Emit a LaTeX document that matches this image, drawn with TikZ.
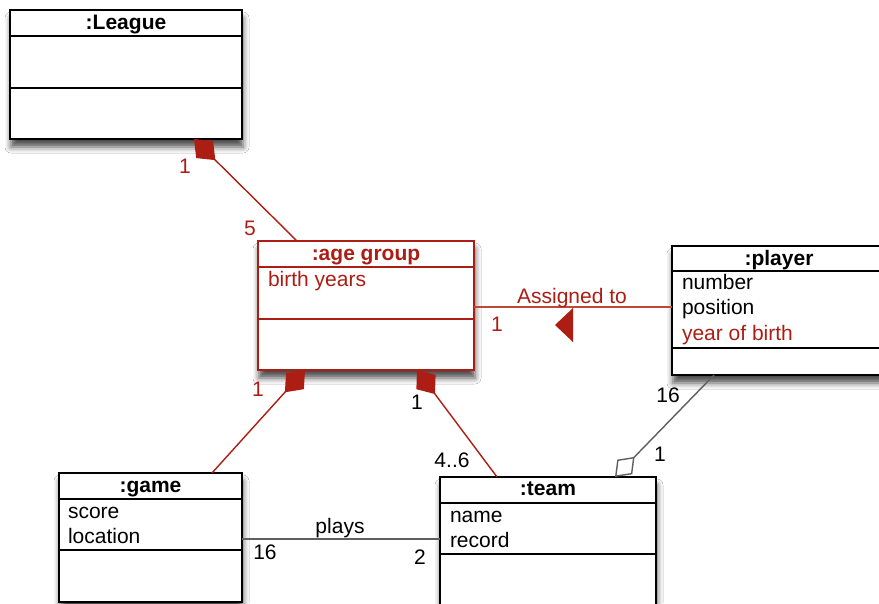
\documentclass[tikz,border=0pt]{standalone}
\usepackage{fontspec}
\setmainfont{Liberation Sans}
\usetikzlibrary{arrows.meta,shadows.blur}
\definecolor{umlred}{RGB}{172,30,20}
\definecolor{linkred}{RGB}{195,70,60}
\definecolor{linkgray}{RGB}{95,95,95}
\begin{document}
\begin{tikzpicture}[x=1pt,y=-1pt,
  every node/.style={font=\fontsize{21}{25}\selectfont, inner sep=0pt, outer sep=0pt},
  umlbox/.style={draw=black, line width=1.8pt, fill=white, anchor=north west,
    blur shadow={shadow xshift=1pt, shadow yshift=-8pt, shadow blur radius=6pt, shadow opacity=70}},
  redbox/.style={umlbox, draw=umlred},
  sepline/.style={line width=1.8pt},
  redsep/.style={line width=1.8pt, draw=umlred},
  titletext/.style={font=\fontsize{21}{25}\selectfont\bfseries, anchor=base},
  attr/.style={anchor=base west},
  redlink/.style={draw=umlred, line width=1.4pt},
  pinklink/.style={draw=linkred, line width=1.4pt},
  graylink/.style={draw=linkgray, line width=1.4pt},
  comp/.style={{Diamond[length=30pt,width=24pt,fill=umlred]}-},
  agg/.style={{Diamond[open,length=28pt,width=21pt,fill=white]}-},
  redlabel/.style={text=umlred},
]
\useasboundingbox (0,0) rectangle (879,603);
\clip (0,0) rectangle (879,603);
\fill[white] (0,0) rectangle (879,603);

% ---------- boxes ----------
\node[umlbox, minimum width=232pt, minimum height=129pt] (league) at (10,10) {};
\draw[sepline] ([yshift=-26pt]league.north west) -- ([yshift=-26pt]league.north east);
\draw[sepline] ([yshift=-78pt]league.north west) -- ([yshift=-78pt]league.north east);
\node[titletext] (leaguet) at ([yshift=-19pt]league.north) {:League};

\node[redbox, minimum width=216pt, minimum height=129pt] (agegroup) at (258,241) {};
\draw[redsep] ([yshift=-26pt]agegroup.north west) -- ([yshift=-26pt]agegroup.north east);
\draw[redsep] ([yshift=-78pt]agegroup.north west) -- ([yshift=-78pt]agegroup.north east);
\node[titletext, text=umlred] (agegroupt) at ([yshift=-19pt]agegroup.north) {:age group};
\node[attr, text=umlred] (ag1) at ([xshift=10pt,yshift=-45pt]agegroup.north west) {birth years};

\node[umlbox, minimum width=214pt, minimum height=129pt] (player) at (672,246) {};
\draw[sepline] ([yshift=-25pt]player.north west) -- ([yshift=-25pt]player.north east);
\draw[sepline] ([yshift=-102pt]player.north west) -- ([yshift=-102pt]player.north east);
\node[titletext] (playert) at ([yshift=-19pt]player.north) {:player};
\node[attr] (pl1) at ([xshift=10pt,yshift=-43pt]player.north west) {number};
\node[attr] (pl2) at ([xshift=10pt,yshift=-68.5pt]player.north west) {position};
\node[attr, text=umlred] (pl3) at ([xshift=10pt,yshift=-94pt]player.north west) {year of birth};

\node[umlbox, minimum width=183pt, minimum height=129pt] (game) at (59,473) {};
\draw[sepline] ([yshift=-26pt]game.north west) -- ([yshift=-26pt]game.north east);
\draw[sepline] ([yshift=-77pt]game.north west) -- ([yshift=-77pt]game.north east);
\node[titletext] (gamet) at ([yshift=-19pt]game.north) {:game};
\node[attr] (ga1) at ([xshift=9pt,yshift=-45pt]game.north west) {score};
\node[attr] (ga2) at ([xshift=9pt,yshift=-70pt]game.north west) {location};

\node[umlbox, minimum width=216pt, minimum height=140pt] (team) at (440,477) {};
\draw[sepline] ([yshift=-26pt]team.north west) -- ([yshift=-26pt]team.north east);
\draw[sepline] ([yshift=-77pt]team.north west) -- ([yshift=-77pt]team.north east);
\node[titletext] (teamt) at ([yshift=-18pt]team.north) {:team};
\node[attr] (te1) at ([xshift=10pt,yshift=-45pt]team.north west) {name};
\node[attr] (te2) at ([xshift=10pt,yshift=-70pt]team.north west) {record};

% ---------- connectors ----------
\draw[redlink, comp] ([xshift=184pt]league.south west) -- ([xshift=39pt]agegroup.north west);
\draw[redlink, comp] ([xshift=47pt]agegroup.south west) -- ([xshift=153pt]game.north west);
\draw[redlink, comp] ([xshift=159pt]agegroup.south west) -- ([xshift=57pt]team.north west);
\coordinate (asgA) at ([yshift=-1.5pt]agegroup.east);
\draw[pinklink] (asgA) -- (asgA -| player.west);
\fill[umlred] (555,325) -- (573,308) -- (573,342) -- cycle;
\draw[graylink, agg] ([xshift=175pt]team.north west) -- ([xshift=42pt]player.south west);
\coordinate (plA) at ([yshift=-1.5pt]game.east);
\draw[graylink] (plA) -- (plA -| team.west);

% ---------- labels ----------
\node[redlabel] (l1) at (185,166) {1};
\node[redlabel] (l2) at (250,228) {5};
\node[redlabel] (l3) at (258,389) {1};
\node (l4) at (417,402) {1};
\node (l5) at (452,460) {4..6};
\node[redlabel] (l6) at (497,324) {1};
\node[redlabel, anchor=base] (l7) at (572,303) {Assigned to};
\node (l8) at (668,395) {16};
\node (l9) at (660,454) {1};
\node[anchor=base] (l10) at (340,533) {plays};
\node (l11) at (265,552) {16};
\node (l12) at (420,557) {2};
\end{tikzpicture}
\end{document}
